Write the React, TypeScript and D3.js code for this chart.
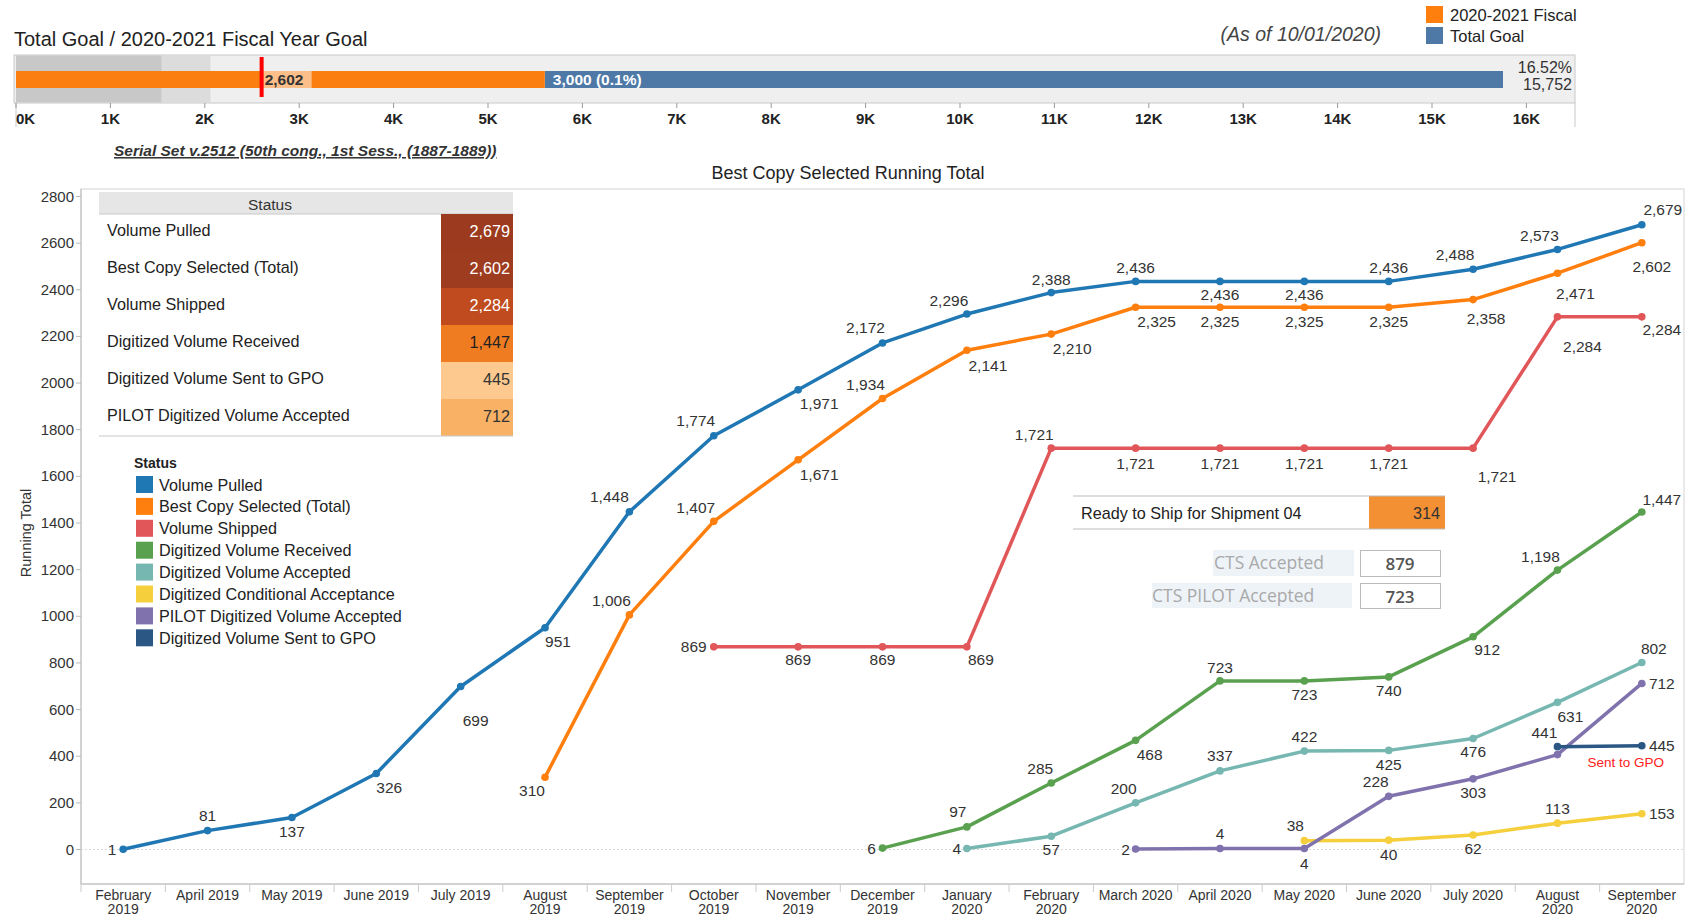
import React from "react";
import * as d3 from "d3";

const categories = [
  "February\n2019", "April 2019", "May 2019", "June 2019", "July 2019", "August\n2019",
  "September\n2019", "October\n2019", "November\n2019", "December\n2019", "January\n2020",
  "February\n2020", "March 2020", "April 2020", "May 2020", "June 2020", "July 2020",
  "August\n2020", "September\n2020",
];
const _ = null;
const volumePulled = [1, 81, 137, 326, 699, 951, 1448, 1774, 1971, 2172, 2296, 2388, 2436, 2436, 2436, 2436, 2488, 2573, 2679];
const bestCopy = [_, _, _, _, _, 310, 1006, 1407, 1671, 1934, 2141, 2210, 2325, 2325, 2325, 2325, 2358, 2471, 2602];
const volumeShipped = [_, _, _, _, _, _, _, 869, 869, 869, 869, 1721, 1721, 1721, 1721, 1721, 1721, 2284, 2284];
const volumeReceived = [_, _, _, _, _, _, _, _, _, 6, 97, 285, 468, 723, 723, 740, 912, 1198, 1447];
const volumeAccepted = [_, _, _, _, _, _, _, _, _, _, 4, 57, 200, 337, 422, 425, 476, 631, 802];
const conditional = [_, _, _, _, _, _, _, _, _, _, _, _, _, _, 38, 40, 62, 113, 153];
const pilotAccepted = [_, _, _, _, _, _, _, _, _, _, _, _, 2, 4, 4, 228, 303, 407, 712];
const sentToGPO = [_, _, _, _, _, _, _, _, _, _, _, _, _, _, _, _, _, 441, 445];

const yTicks = [0, 200, 400, 600, 800, 1000, 1200, 1400, 1600, 1800, 2000, 2200, 2400, 2600, 2800];

const statusNames = ["Volume Pulled", "Best Copy Selected (Total)", "Volume Shipped", "Digitized Volume Received",
  "Digitized Volume Accepted", "Digitized Conditional Acceptance", "PILOT Digitized Volume Accepted", "Digitized Volume Sent to GPO"];
const statusColors = ["#1f77b4", "#ff7f0e", "#e15759", "#59a14f", "#76b7b2", "#f5cf3c", "#8072ad", "#2a5783"];

const tableLabels = ["Volume Pulled", "Best Copy Selected (Total)", "Volume Shipped", "Digitized Volume Received",
  "Digitized Volume Sent to GPO", "PILOT Digitized Volume Accepted"];
const tableValues = [2679, 2602, 2284, 1447, 445, 712];
const tableColors = ["#9b3a1f", "#9e3c20", "#bf4b1e", "#f07c22", "#fdc98f", "#f9b265"];
const tableText = ["#fff", "#fff", "#fff", "#222", "#333", "#333"];

const goalCompleted = 2602;
const fiscalGoal = 3000;
const totalGoal = 15752;
const goalBands = [1540, 2060];
const goalTicks = d3.range(0, 17000, 1000);

// label offsets (style): [dx, dy] from point, per series index
const labelOffsets: Record<string, ([number, number] | null)[]> = {
  pulled: [[-11, 0], [0, -15], [0, 14], [13, 14], [15, 34], [13, 14], [-20, -15], [-18, -15], [21, 14], [-17, -15], [-18, -14], [0, -13], [0, -14], [0, 13], [0, 13], [0, -14], [-18, -15], [-18, -14], [21, -15]],
  best: [_, _, _, _, _, [-13, 13], [-18, -14], [-18, -14], [21, 15], [-17, -14], [21, 15], [21, 14], [21, 14], [0, 14], [0, 14], [0, 14], [13, 19], [18, 20], [10, 24]],
  shipped: [_, _, _, _, _, _, _, [-20, 0], [0, 13], [0, 13], [14, 13], [-17, -14], [0, 15], [0, 15], [0, 15], [0, 15], [24, 28], [25, 30], [20, 13]],
  received: [_, _, _, _, _, _, _, _, _, [-11, 0], [-9, -15], [-11, -15], [14, 14], [0, -13], [0, 14], [0, 14], [14, 13], [-17, -14], [20, -13]],
  accepted: [_, _, _, _, _, _, _, _, _, _, [-10, 0], [0, 13], [-12, -14], [0, -15], [0, -15], [0, 14], [0, 13], [13, 14], [12, -14]],
  conditional: [_, _, _, _, _, _, _, _, _, _, _, _, _, _, [-9, -15], [0, 14], [0, 13], [0, -15], [20, 0]],
  pilot: [_, _, _, _, _, _, _, _, _, _, _, _, [-10, 0], [0, -15], [0, 15], [-13, -15], [0, 14], _, [20, 0]],
  gpo: [_, _, _, _, _, _, _, _, _, _, _, _, _, _, _, _, _, [-13, -14], [20, 0]],
};

const series = [
  { key: "pulled", values: volumePulled, color: statusColors[0] },
  { key: "best", values: bestCopy, color: statusColors[1] },
  { key: "shipped", values: volumeShipped, color: statusColors[2] },
  { key: "received", values: volumeReceived, color: statusColors[3] },
  { key: "accepted", values: volumeAccepted, color: statusColors[4] },
  { key: "conditional", values: conditional, color: statusColors[5] },
  { key: "pilot", values: pilotAccepted, color: statusColors[6] },
  { key: "gpo", values: sentToGPO, color: statusColors[7] },
];

const FONT = "'Liberation Sans', Arial, sans-serif";
const CTSFONT = "'Open Sans', sans-serif";
const fmt = d3.format(",");

export default function App() {
  const W = 1701, H = 918;
  const plot = { left: 81, right: 1684, top: 189, bottom: 884 };
  const x = d3.scaleBand<number>().domain(d3.range(categories.length)).range([plot.left, plot.right]).padding(0);
  const cx = (i: number) => (x(i) as number) + x.bandwidth() / 2;
  const y = d3.scaleLinear().domain([0, 2800]).range([849.5, 196.5]);
  const line = d3.line<number | null>()
    .defined((d) => d != null)
    .x((_d, i) => cx(i))
    .y((d) => y(d as number));

  const gx = d3.scaleLinear().domain([0, 16000]).range([16, 1526.4]);
  const frame = { x0: 14, x1: 1575, y0: 55, y1: 103 };

  return (
    <svg width={W} height={H} style={{ position: "absolute", left: 0, top: 0, background: "#fff" }} fontFamily={FONT}>
      {/* ===== Top bullet chart ===== */}
      <text x={14} y={46} fontSize={20} fill="#222">Total Goal / 2020-2021 Fiscal Year Goal</text>
      <text x={1381} y={41} fontSize={19.5} fontStyle="italic" fill="#444" textAnchor="end">(As of 10/01/2020)</text>
      <rect x={1426} y={6} width={17} height={17} fill="#ff7f0e" />
      <text x={1450} y={20.5} fontSize={16.5} fill="#222">2020-2021 Fiscal</text>
      <rect x={1426} y={27} width={17} height={17} fill="#4e79a7" />
      <text x={1450} y={41.5} fontSize={16.5} fill="#222">Total Goal</text>

      <rect x={frame.x0} y={frame.y0} width={frame.x1 - frame.x0} height={frame.y1 - frame.y0} fill="#efefef" stroke="#c8c8c8" />
      <rect x={gx(0)} y={frame.y0 + 0.5} width={gx(goalBands[1]) - gx(0)} height={frame.y1 - frame.y0 - 1} fill="#dcdcdc" />
      <rect x={gx(0)} y={frame.y0 + 0.5} width={gx(goalBands[0]) - gx(0)} height={frame.y1 - frame.y0 - 1} fill="#c8c8c8" />
      <rect x={gx(goalCompleted + fiscalGoal)} y={71} width={gx(totalGoal) - gx(goalCompleted + fiscalGoal)} height={17} fill="#4e79a7" />
      <rect x={gx(0)} y={71} width={gx(goalCompleted + fiscalGoal) - gx(0)} height={17} fill="#fb7f10" />
      <rect x={gx(goalCompleted)} y={71} width={50} height={17} fill="#fcbf8a" />
      <text x={gx(goalCompleted) + 3} y={85} fontSize={15.5} fontWeight="bold" fill="#333">{fmt(goalCompleted)}</text>
      <text x={gx(goalCompleted + fiscalGoal) + 8} y={85} fontSize={15.5} fontWeight="bold" fill="#fff">{`${fmt(fiscalGoal)} (0.1%)`}</text>
      <line x1={gx(goalCompleted)} x2={gx(goalCompleted)} y1={57} y2={97} stroke="#ff0000" strokeWidth={4} />
      <text x={1572} y={73} fontSize={16} textAnchor="end" fill="#333">{`${d3.format(".2%")(goalCompleted / totalGoal)}`}</text>
      <text x={1572} y={90} fontSize={16} textAnchor="end" fill="#333">{fmt(totalGoal)}</text>
      <line x1={frame.x0 + 2} x2={frame.x0 + 2} y1={frame.y1} y2={127} stroke="#c8c8c8" />
      <line x1={frame.x1} x2={frame.x1} y1={frame.y1} y2={127} stroke="#c8c8c8" />
      {goalTicks.map((t, i) => (
        <g key={t}>
          <line x1={gx(t)} x2={gx(t)} y1={frame.y1} y2={frame.y1 + 5} stroke="#999" />
          <text x={gx(t)} y={124} fontSize={15} fontWeight="bold" fill="#222" textAnchor={i === 0 ? "start" : "middle"}>{`${t / 1000}K`}</text>
        </g>
      ))}
      <text x={114} y={156} fontSize={15.5} fontStyle="italic" fontWeight="bold" textDecoration="underline" fill="#333">Serial Set v.2512 (50th cong.,  1st Sess., (1887-1889))</text>

      {/* ===== Main chart ===== */}
      <text x={848} y={179} fontSize={18} textAnchor="middle" fill="#222">Best Copy Selected Running Total</text>
      <rect x={plot.left} y={plot.top} width={plot.right - plot.left} height={plot.bottom - plot.top} fill="none" stroke="#d4d4d4" />
      <line x1={plot.left} x2={plot.left} y1={plot.top} y2={plot.bottom} stroke="#bbb" />
      <line x1={plot.left} x2={plot.right} y1={plot.bottom} y2={plot.bottom} stroke="#bbb" />
      <line x1={plot.left} x2={plot.right} y1={y(0)} y2={y(0)} stroke="#d8d8d8" strokeDasharray="2,2" />
      {yTicks.map((t) => (
        <g key={t}>
          <line x1={plot.left - 5} x2={plot.left} y1={y(t)} y2={y(t)} stroke="#bbb" />
          <text x={74} y={y(t) + 5} fontSize={15} textAnchor="end" fill="#333">{t}</text>
        </g>
      ))}
      <text transform={`translate(31,533) rotate(-90)`} fontSize={14.5} textAnchor="middle" fill="#333">Running Total</text>
      {categories.map((c, i) => {
        const lines = c.split("\n");
        return (
          <g key={i}>
            <line x1={x(i) as number} x2={x(i) as number} y1={plot.bottom} y2={plot.bottom + 8} stroke="#ccc" />
            {lines.map((l, j) => (
              <text key={j} x={cx(i)} y={900 + j * 14} fontSize={14} textAnchor="middle" fill="#333">{l}</text>
            ))}
          </g>
        );
      })}

      {/* Table */}
      <rect x={99} y={192} width={414} height={22} fill="#e6e6e6" />
      <line x1={99} x2={513} y1={214} y2={214} stroke="#c8c8c8" />
      <text x={270} y={210} fontSize={15.5} textAnchor="middle" fill="#333">Status</text>
      {tableLabels.map((l, i) => (
        <g key={l}>
          <rect x={441} y={214 + i * 37} width={72} height={37} fill={tableColors[i]} />
          <text x={107} y={214 + i * 37 + 22} fontSize={16.2} fill="#222">{l}</text>
          <text x={510} y={214 + i * 37 + 23} fontSize={16.2} textAnchor="end" fill={tableText[i]}>{fmt(tableValues[i])}</text>
        </g>
      ))}
      <line x1={99} x2={513} y1={436} y2={436} stroke="#c8c8c8" />

      {/* Legend */}
      <text x={134} y={468} fontSize={14} fontWeight="bold" fill="#222">Status</text>
      {statusNames.map((s, i) => (
        <g key={s}>
          <rect x={136} y={476 + i * 21.9} width={17} height={17} fill={statusColors[i]} />
          <text x={159} y={490.5 + i * 21.9} fontSize={16.2} fill="#222">{s}</text>
        </g>
      ))}

      {/* Ready to ship / CTS */}
      <rect x={1073} y={496} width={372} height={33} fill="#fff" />
      <rect x={1369} y={496} width={76} height={33} fill="#f39033" />
      <line x1={1073} x2={1445} y1={496} y2={496} stroke="#bbb" />
      <line x1={1073} x2={1445} y1={529} y2={529} stroke="#bbb" />
      <text x={1081} y={518.5} fontSize={16.2} fill="#222">Ready to Ship for Shipment 04</text>
      <text x={1440} y={519} fontSize={16.2} textAnchor="end" fill="#333">314</text>
      <rect x={1213} y={550} width={141} height={26} fill="#eef3f8" />
      <text x={1214} y={569} fontSize={17.5} fill="#a9a9a9" fontFamily={CTSFONT}>CTS Accepted</text>
      <rect x={1360.5} y={550.5} width={80} height={26} fill="#fff" stroke="#bbb" />
      <text x={1400} y={569.5} fontSize={17} fontWeight={600} textAnchor="middle" fill="#555" fontFamily={CTSFONT}>879</text>
      <rect x={1152} y={583} width={200} height={25} fill="#eef3f8" />
      <text x={1152} y={602} fontSize={17.5} fill="#a9a9a9" fontFamily={CTSFONT}>CTS PILOT Accepted</text>
      <rect x={1360.5} y={583.5} width={80} height={25} fill="#fff" stroke="#bbb" />
      <text x={1400} y={602.5} fontSize={17} fontWeight={600} textAnchor="middle" fill="#555" fontFamily={CTSFONT}>723</text>

      {/* Lines */}
      {series.map((s) => (
        <g key={s.key}>
          <path d={line(s.values) || ""} fill="none" stroke={s.color} strokeWidth={3.5} strokeLinejoin="round" />
          {s.values.map((v, i) => v == null ? null : (
            <circle key={i} cx={cx(i)} cy={y(v)} r={3.8} fill={s.color} />
          ))}
        </g>
      ))}
      {series.map((s) => (
        <g key={s.key + "-l"}>
          {s.values.map((v, i) => {
            const off = labelOffsets[s.key][i];
            if (v == null || !off) return null;
            return (
              <text key={i} x={cx(i) + off[0]} y={y(v) + off[1] + 5.5} fontSize={15.5} textAnchor="middle" fill="#333">{fmt(v)}</text>
            );
          })}
        </g>
      ))}
      <text x={cx(18) - 16} y={y(sentToGPO[18] as number) + 21} fontSize={13.5} textAnchor="middle" fill="#ff2020">Sent to GPO</text>
    </svg>
  );
}
